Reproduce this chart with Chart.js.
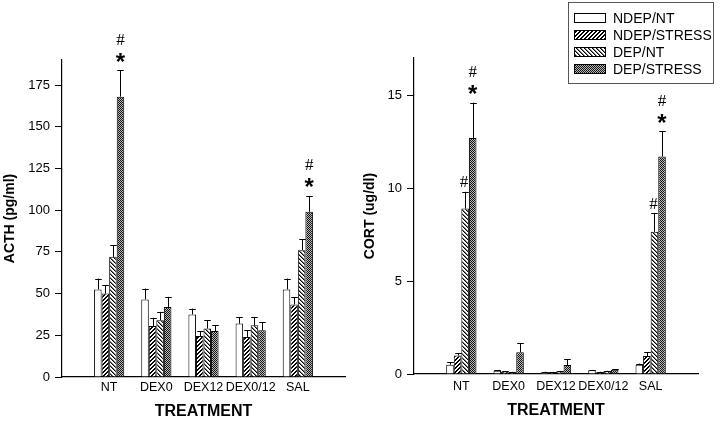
<!DOCTYPE html>
<html>
<head>
<meta charset="utf-8">
<script src="https://cdn.jsdelivr.net/npm/chart.js@4.4.1/dist/chart.umd.min.js"></script>
<style>
  html, body { margin: 0; padding: 0; background: #fff; }
  #wrap { position: relative; width: 720px; height: 421px; }
  canvas { position: absolute; top: 0; }
  #acth { left: 0; }
  #cort { left: 360px; }
</style>
</head>
<body>
<div id="wrap">
  <canvas id="acth" width="360" height="421"></canvas>
  <canvas id="cort" width="360" height="421"></canvas>
</div>
<script>
// ── Data ───────────────────────────────────────────────────────
const groups      = ["NT", "DEX0", "DEX12", "DEX0/12", "SAL"];
const seriesNames = ["NDEP/NT", "NDEP/STRESS", "DEP/NT", "DEP/STRESS"];

// ACTH (pg/ml), mean and SEM per group
const acthNdepNt       = [52.5, 46.5, 37.5, 32, 52.5];
const acthNdepStress   = [50, 30.5, 24.5, 24, 43.5];
const acthDepNt        = [72, 34, 29, 31, 76];
const acthDepStress    = [168, 42, 27.5, 28, 99];
const acthErrNdepNt     = [6.5, 6.5, 3.5, 4, 6.5];
const acthErrNdepStress = [5, 5, 3, 4, 4.5];
const acthErrDepNt      = [7, 5, 5, 5, 6.5];
const acthErrDepStress  = [16, 6, 3.5, 5, 9.5];
const acthTicks = [0, 25, 50, 75, 100, 125, 150, 175];

// CORT (ug/dl)
const cortNdepNt       = [0.5, 0.18, 0.1, 0.2, 0.5];
const cortNdepStress   = [1.0, 0.14, 0.09, 0.1, 0.97];
const cortDepNt        = [8.9, 0.1, 0.14, 0.15, 7.65];
const cortDepStress    = [12.7, 1.17, 0.48, 0.23, 11.7];
const cortErrNdepNt     = [0.12, 0.02, 0.02, 0.02, 0.06];
const cortErrNdepStress = [0.12, 0.02, 0.02, 0.02, 0.2];
const cortErrDepNt      = [0.9, 0.02, 0.02, 0.02, 1.0];
const cortErrDepStress  = [1.9, 0.48, 0.31, 0.03, 1.35];
const cortTicks = [0, 5, 10, 15];

// significance marks: [group, series index, text]
const acthMarks = [["NT", 3, "#*"], ["SAL", 3, "#*"]];
const cortMarks = [["NT", 2, "#"], ["NT", 3, "#*"], ["SAL", 2, "#"], ["SAL", 3, "#*"]];

// ── Styling helpers ────────────────────────────────────────────
const FONT = "'Liberation Sans', Arial, Helvetica, sans-serif";

function makePattern(kind) {
  const n = kind === "dots" ? 2 : 4;
  const c = document.createElement("canvas");
  c.width = n; c.height = n;
  const g = c.getContext("2d");
  for (let y = 0; y < n; y++) {
    for (let x = 0; x < n; x++) {
      let col = "#fff";
      if (kind === "fwd")  col = ((x + y) % 4 >= 2) ? "#000" : "#fff";
      if (kind === "back") col = ((x - y + 4) % 4 === 0) ? "#000" : ((x - y + 4) % 4 === 1 ? "#777" : "#fff");
      if (kind === "dots") col = ((x + y) % 2 === 0) ? "#111" : "#bbb";
      g.fillStyle = col;
      g.fillRect(x, y, 1, 1);
    }
  }
  return g.createPattern(c, "repeat");
}

const fills = ["#fff", makePattern("fwd"), makePattern("back"), makePattern("dots")];

// ── Plugins ────────────────────────────────────────────────────
const errorBars = {
  id: "errorBars",
  afterDatasetsDraw(chart) {
    const ctx = chart.ctx, yS = chart.scales.y;
    ctx.save();
    ctx.strokeStyle = "#000";
    ctx.lineWidth = 1;
    chart.data.datasets.forEach((ds, i) => {
      chart.getDatasetMeta(i).data.forEach((bar, j) => {
        const v = ds.data[j];
        if (v == null) return;
        const yTop = yS.getPixelForValue(v + ds.errors[j]);
        const half = (bar.width - 1) / 2;
        const x = Math.round(bar.x) + 0.5;
        ctx.beginPath();
        ctx.moveTo(x, bar.y);
        ctx.lineTo(x, yTop);
        ctx.moveTo(x - half, Math.round(yTop) + 0.5);
        ctx.lineTo(x + half, Math.round(yTop) + 0.5);
        ctx.stroke();
      });
    });
    ctx.restore();
  },
};

function drawCentered(ctx, text, x, cy) {
  const m = ctx.measureText(text);
  ctx.fillText(text, x, cy + (m.actualBoundingBoxAscent - m.actualBoundingBoxDescent) / 2);
}

const sigMarks = {
  id: "sigMarks",
  afterDatasetsDraw(chart, args, opts) {
    const ctx = chart.ctx, yS = chart.scales.y;
    ctx.save();
    ctx.fillStyle = "#000";
    ctx.textAlign = "center";
    ctx.textBaseline = "alphabetic";
    (opts.marks || []).forEach(([grp, si, text]) => {
      const ds = chart.data.datasets[si];
      const j = chart.data.labels.indexOf(grp);
      const bar = chart.getDatasetMeta(si).data[j];
      const yCap = yS.getPixelForValue(ds.data[j] + ds.errors[j]);
      if (text.includes("*")) {
        ctx.font = "bold 24px " + FONT;
        drawCentered(ctx, "*", bar.x, yCap - 13);
        ctx.font = "17px 'Liberation Serif', 'Times New Roman', serif";
        drawCentered(ctx, "#", bar.x, yCap - 31);
      } else {
        ctx.font = "17px 'Liberation Serif', 'Times New Roman', serif";
        drawCentered(ctx, "#", bar.x - 1, yCap - 10);
      }
    });
    ctx.restore();
  },
};

const boxLegend = {
  id: "boxLegend",
  afterDraw(chart, args, opts) {
    if (!opts.show) return;
    const ctx = chart.ctx;
    ctx.save();
    ctx.strokeStyle = "#555";
    ctx.lineWidth = 1;
    ctx.fillStyle = "#fff";
    ctx.fillRect(208.5, 2.5, 145, 81);
    ctx.strokeRect(208.5, 2.5, 145, 81);
    const rows = [18, 35, 52, 69];
    ctx.font = "14px " + FONT;
    ctx.textBaseline = "middle";
    ctx.textAlign = "left";
    chart.data.datasets.forEach((ds, i) => {
      const y = rows[i];
      ctx.fillStyle = ds.backgroundColor;
      ctx.fillRect(214, y - 5, 32, 10);
      ctx.strokeStyle = "#000";
      ctx.strokeRect(214.5, y - 4.5, 31, 9);
      ctx.fillStyle = "#000";
      ctx.fillText(ds.label, 253, y + 1);
    });
    ctx.restore();
  },
};

// ── Chart builder ──────────────────────────────────────────────
function buildChart(id, cfg) {
  const labels = ["", ...groups, ""];
  return new Chart(document.getElementById(id), {
    type: "bar",
    data: {
      labels,
      datasets: seriesNames.map((name, i) => ({
        label: name,
        data: [null, ...cfg.means[i], null],
        errors: [null, ...cfg.errs[i], null],
        backgroundColor: fills[i],
        borderColor: "#000",
        borderWidth: 1,
        borderSkipped: "bottom",
        categoryPercentage: 0.64,
        barPercentage: 1.0,
      })),
    },
    options: {
      responsive: false,
      animation: false,
      layout: { padding: { left: 0, top: cfg.top, right: cfg.right, bottom: 0 } },
      plugins: {
        legend: { display: false },
        tooltip: { enabled: false },
        sigMarks: { marks: cfg.marks },
        boxLegend: { show: cfg.legend },
      },
      scales: {
        x: {
          offset: false,
          grid: { display: false, drawTicks: false },
          border: { display: true, color: "#000", width: 1.2 },
          ticks: { color: "#000", font: { size: 12.5, family: FONT }, padding: cfg.xPad, maxRotation: 0, autoSkip: false },
          title: {
            display: true, text: "TREATMENT", color: "#000",
            font: { size: 16, weight: "bold", family: FONT },
            padding: { top: 0, bottom: cfg.titlePad },
          },
          afterFit: (s) => { s.height = cfg.xH; },
        },
        y: {
          min: 0,
          max: cfg.max,
          afterBuildTicks: (s) => { s.ticks = cfg.ticks.map((v) => ({ value: v })); },
          grid: { drawOnChartArea: false, drawTicks: true, tickLength: 7, color: "#000", lineWidth: 1 },
          border: { display: true, color: "#000", width: 1.2 },
          ticks: { color: "#000", font: { size: 13, family: FONT }, padding: 5 },
          title: {
            display: true, text: cfg.title, color: "#000",
            font: { size: 14, weight: "bold", family: FONT },
            padding: { top: 2, bottom: 0 },
          },
          afterFit: (s) => { s.width = cfg.yW; },
        },
      },
    },
    plugins: [errorBars, sigMarks, boxLegend],
  });
}

buildChart("acth", {
  means: [acthNdepNt, acthNdepStress, acthDepNt, acthDepStress],
  errs:  [acthErrNdepNt, acthErrNdepStress, acthErrDepNt, acthErrDepStress],
  ticks: acthTicks, max: 190, title: "ACTH (pg/ml)", marks: acthMarks, legend: false,
  top: 60, right: 15, yW: 62, xH: 44, xPad: 3, titlePad: 0,
});

buildChart("cort", {
  means: [cortNdepNt, cortNdepStress, cortDepNt, cortDepStress],
  errs:  [cortErrNdepNt, cortErrNdepStress, cortErrDepNt, cortErrDepStress],
  ticks: cortTicks, max: 17, title: "CORT (ug/dl)", marks: cortMarks, legend: true,
  top: 58, right: 22, yW: 54, xH: 47, xPad: 5, titlePad: 1,
});
</script>
</body>
</html>
